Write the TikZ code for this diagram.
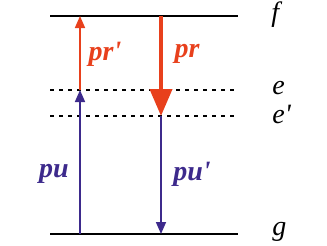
\documentclass[tikz,border=0pt]{standalone}
\usepackage{fontspec}
\setmainfont{Liberation Serif}
\usepackage{tikz}
\usetikzlibrary{arrows.meta,positioning}
\tikzset{
  level/.style={line width=1pt, draw=black},
  virtual/.style={line width=1pt, draw=black, dash pattern=on 2pt off 2.5pt},
  pumparrow/.style={-{Triangle[length=6pt,width=5pt]}, line width=0.8pt, draw=PumpPurple},
  probearrow/.style={-{Triangle[length=6pt,width=5pt]}, line width=0.8pt, draw=ProbeRed},
  signalarrow/.style={-{Triangle[length=13.5pt,width=11pt]}, line width=2pt, draw=ProbeRed},
  beamlabel/.style={font=\fontsize{14}{16}\selectfont\bfseries\itshape, inner sep=1pt},
  statelabel/.style={font=\fontsize{14}{16}\selectfont\itshape, anchor=west, inner sep=0pt}
}
\definecolor{PumpPurple}{HTML}{3D2A8C}
\definecolor{ProbeRed}{HTML}{E8401C}

\begin{document}
\begin{tikzpicture}[x=0.5pt, y=-0.5pt]
\useasboundingbox (0,0) rectangle (327,246);
% energy levels
\coordinate (fL) at (50,16);   \coordinate (fR) at (238,16);
\coordinate (eL) at (50,90);   \coordinate (eR) at (238,90);
\coordinate (e2L) at (50,116); \coordinate (e2R) at (238,116);
\coordinate (gL) at (50,234);  \coordinate (gR) at (238,234);
\draw[level] (fL) -- (fR);
\draw[virtual] (eL) -- (eR);
\draw[virtual] (e2L) -- (e2R);
\draw[level] (gL) -- (gR);
\node[statelabel] at (271,15) (fname) {f};
\node[statelabel] at (272,88) (ename) {e};
\node[statelabel] at (272,114) (e2name) {e\textquotesingle};
\node[statelabel] at (272,232) (gname) {g};

% transitions
\coordinate (pA) at (80,234);  \coordinate (pB) at (80,90);  \coordinate (pC) at (80,16);
\coordinate (qA) at (161,16);  \coordinate (qB) at (161,116); \coordinate (qC) at (161,234);
\draw[pumparrow] (pA) -- (pB);
\draw[probearrow] (pB) -- (pC);
\draw[signalarrow] (qA) -- (qB);
\draw[pumparrow] (qB) -- (qC);
\node[beamlabel, text=ProbeRed] at (105,54) (prp) {pr\textquotesingle};
\node[beamlabel, text=ProbeRed] at (187,54) (pr) {pr};
\node[beamlabel, text=PumpPurple] at (54,174) (pu) {pu};
\node[beamlabel, text=PumpPurple] at (192,174) (pup) {pu\textquotesingle};
\end{tikzpicture}
\end{document}
